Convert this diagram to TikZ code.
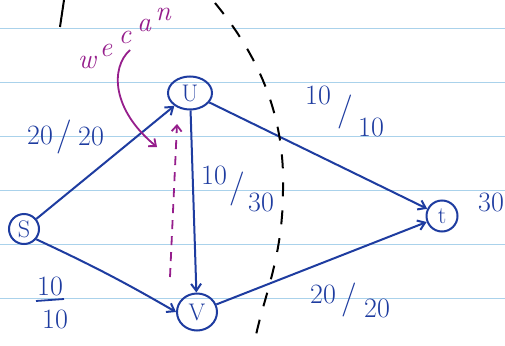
\documentclass[tikz,border=0pt]{standalone}
\usetikzlibrary{arrows.meta,shapes.geometric}
\definecolor{ink}{RGB}{30,60,160}
\definecolor{pink}{RGB}{150,30,140}
\definecolor{rule}{RGB}{170,210,235}
\begin{document}
\begin{tikzpicture}[x=1pt,y=-1pt,
  vert/.style={draw=ink,line width=2pt,ellipse,inner sep=0pt,text=ink,font=\fontsize{24}{26}\selectfont},
  edge/.style={draw=ink,line width=2pt,-{Straight Barb[length=7pt,width=10pt]}},
  lab/.style={text=ink,inner sep=0pt,font=\fontsize{28}{30}\selectfont},
  slash/.style={text=ink,inner sep=0pt,font=\fontsize{34}{36}\selectfont},
  note/.style={text=pink,inner sep=0pt,font=\fontsize{28}{30}\selectfont\itshape}]
\fill[white] (0,0) rectangle (505,345);
\useasboundingbox (0,0) rectangle (505,345);
% ruled lines
\foreach \yy in {28,82,136,190,244,298}
  \draw[rule,line width=0.8pt] (0,\yy) -- (505,\yy);
% top-left stroke
\draw[black,line width=2pt] (64,0) -- (60,27);
% nodes
\node[vert,minimum width=44pt,minimum height=33pt] (u) at (190,93) {U};
\node[vert,minimum width=40pt,minimum height=37pt] (v) at (197,312) {V};
\node[vert,minimum width=30pt,minimum height=30pt] (s) at (24,229) {S};
\node[vert,minimum width=31pt,minimum height=31pt] (t) at (442,216) {t};
% edges
\draw[edge] (s) -- (u);
\draw[edge] (s.-40) to[out=-25,in=150] (v.west);
\draw[edge] (u) -- (v);
\draw[edge] (u) -- (t);
\draw[edge] (v) -- (t);
% labels
\node[lab] (l1a) at (40,135) {20};
\node[slash] (l1s) at (64,137) {/};
\node[lab] (l1b) at (91,136) {20};
\node[lab] (l2a) at (318,95) {10};
\node[slash] (l2s) at (345,112) {/};
\node[lab] (l2b) at (371,127) {10};
\node[lab] (l3a) at (214,175) {10};
\node[slash] (l3s) at (237,189) {/};
\node[lab] (l3b) at (261,202) {30};
\node[lab] (l4a) at (50,286) {10};
\draw[ink,line width=1.8pt] (36,301) -- (64,299);
\node[lab] (l4b) at (55,319) {10};
\node[lab] (l5a) at (323,294) {20};
\node[slash] (l5s) at (349,300) {/};
\node[lab] (l5b) at (377,308) {20};
\node[lab] (l6) at (491,202) {30};
% purple note, letter by letter along a rising line
\node[note] (n1) at (87,62) {w};
\node[note] (n2) at (106,50) {e};
\node[note] (n3) at (125,37) {c};
\node[note] (n4) at (144,25) {a};
\node[note] (n5) at (163,14) {n};
\coordinate (pa) at (130,50);
\coordinate (pb) at (157,147);
\draw[pink,line width=1.8pt,-{Straight Barb[length=6pt,width=10pt]}] (pa) .. controls (110,68) and (112,110) .. (pb);
\coordinate (da) at (170,277);
\coordinate (db) at (177,124);
\draw[pink,line width=1.8pt,dash pattern=on 9pt off 7pt,-{Straight Barb[length=6pt,width=10pt]}] (da) -- (db);
% cut
\coordinate (c0) at (215,3);
\coordinate (c1) at (283,190);
\coordinate (c2) at (254,345);
\draw[black,line width=2pt,dash pattern=on 14pt off 14pt] (c0) .. controls (262,60) and (285,120) .. (c1) .. controls (283,260) and (262,300) .. (c2);
\end{tikzpicture}
\end{document}
